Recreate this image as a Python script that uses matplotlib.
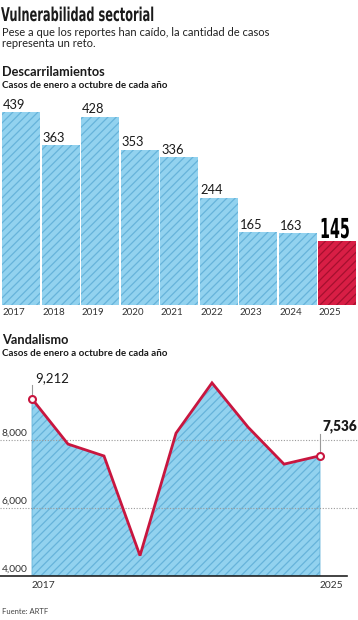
import matplotlib.pyplot as plt
import matplotlib.transforms as mtransforms
from matplotlib.textpath import TextPath
from matplotlib.patches import PathPatch
from matplotlib.font_manager import FontProperties

plt.rcParams['hatch.linewidth'] = 0.9
plt.rcParams['font.family'] = ['Lato', 'DejaVu Sans']

# Data
years = [2017, 2018, 2019, 2020, 2021, 2022, 2023, 2024, 2025]
derail = [439, 363, 428, 353, 336, 244, 165, 163, 145]
vandal = [9212, 7880, 7530, 4600, 8200, 9680, 8380, 7290, 7536]
vandal_ticks = [4000, 6000, 8000]

W, H = 358, 620
BLUE = "#92d2ef"
BLUE_H = "#66b3da"
RED = "#d81e45"
RED_H = "#a5102f"
LINE_RED = "#c8163f"

fig = plt.figure(figsize=(W / 100, H / 100), dpi=100)
fig.patch.set_facecolor("white")


def fx(px):
    return px / W


def fy(py):
    return 1 - py / H


def narrow_text(x_px, base_px, s, size_px, sx, color="#1a1a1a"):
    # condensed text drawn as a squeezed path, placed in pixel coordinates
    path = TextPath((0, 0), s, size=size_px,
                    prop=FontProperties(family="DejaVu Sans", weight="bold"))
    tr = mtransforms.Affine2D().scale(sx, 1).translate(x_px, H - base_px)
    fig.add_artist(PathPatch(path, transform=tr, facecolor=color,
                             edgecolor="none"))


# Header
narrow_text(1, 21, "Vulnerabilidad sectorial", 19, 0.6)
fig.text(fx(2), fy(27), "Pese a que los reportes han caído, la cantidad de casos\nrepresenta un reto.",
         fontsize=8, va="top", ha="left", color="#222222", linespacing=1.05)
fig.text(fx(2), fy(72), "Descarrilamientos", fontsize=9.2, weight="bold",
         va="center", ha="left", color="#1a1a1a")
fig.text(fx(2), fy(86), "Casos de enero a octubre de cada año", fontsize=7,
         weight="bold", va="center", ha="left", color="#1a1a1a")

# Bar chart
ax1 = fig.add_axes([fx(2), fy(305), fx(355.5), (305 - 100) / H])
ax1.set_xlim(0, 9)
ax1.set_ylim(0, 466)
for i, (yr, v) in enumerate(zip(years, derail)):
    last = i == len(years) - 1
    ax1.bar(i, v, width=0.965, align="edge", color=RED if last else BLUE,
            edgecolor=RED_H if last else BLUE_H, hatch="////", linewidth=0)
    if not last:
        ax1.text(i + 0.03, v + 3, str(v), fontsize=9.3, ha="left",
                 va="bottom", color="#1a1a1a")
    ax1.text(i + 0.02, -6, str(yr), fontsize=7, ha="left", va="top",
             color="#333333")
ax1.axis("off")
narrow_text(320, 238, str(derail[-1]), 27.5, 0.52, color="black")

# Line chart
fig.text(fx(2), fy(340), "Vandalismo", fontsize=9.2, weight="bold",
         va="center", ha="left", color="#1a1a1a")
fig.text(fx(2), fy(354), "Casos de enero a octubre de cada año", fontsize=7,
         weight="bold", va="center", ha="left", color="#1a1a1a")

ax2 = fig.add_axes([0, fy(576), 1, (576 - 370) / H])
x0 = years[0] - 32 / 36
x1 = years[0] + (W - 32) / 36
ax2.set_xlim(x0, x1)
ax2.set_ylim(4000, 4000 + (576 - 370) / 0.034)
ax2.axis("off")

ax2.fill_between(years, vandal, 4000, facecolor=BLUE, edgecolor=BLUE_H,
                 hatch="////", linewidth=0.6, zorder=1)
for t in vandal_ticks[1:]:
    ax2.axhline(t, color="#9a9a9a", linestyle=(0, (1, 1.5)), linewidth=0.8,
                zorder=2)
ax2.axhline(4000, xmin=0, xmax=347 / W, color="#222222", linewidth=1.2,
            zorder=4, clip_on=False)
trans = mtransforms.blended_transform_factory(ax2.transAxes, ax2.transData)
for t in vandal_ticks:
    ax2.text(fx(2), t + 60, f"{t:,}", transform=trans, fontsize=7.4,
             ha="left", va="bottom", color="#333333")

ax2.plot(years, vandal, color=LINE_RED, linewidth=2, zorder=5,
         solid_joinstyle="miter")
ax2.plot([years[0], years[-1]], [vandal[0], vandal[-1]], linestyle="none",
         marker="o", markersize=5, markerfacecolor="white",
         markeredgecolor=LINE_RED, markeredgewidth=1.5, zorder=6)

# annotations
ax2.plot([years[0], years[0]], [vandal[0], vandal[0] + 420], color="#9a9a9a",
         linewidth=0.8, zorder=3)
ax2.text(years[0] + 0.08, vandal[0] + 430, f"{vandal[0]:,}", fontsize=9.5,
         ha="left", va="bottom", color="#1a1a1a")
ax2.plot([years[-1], years[-1]], [vandal[-1], vandal[-1] + 650],
         color="#9a9a9a", linewidth=0.8, zorder=3)
ax2.text(years[-1] + 0.06, vandal[-1] + 660, f"{vandal[-1]:,}", fontsize=9.8,
         weight="heavy", ha="left", va="bottom", color="#1a1a1a")

for yr in (years[0], years[-1]):
    ax2.text(yr, 4000 - 150, str(yr), fontsize=7.4, ha="left", va="top",
             color="#333333")

fig.text(fx(2), fy(612), "Fuente: ARTF", fontsize=5.5, va="center", ha="left",
         color="#444444")

fig.savefig("out.png", dpi=100, facecolor="white")
